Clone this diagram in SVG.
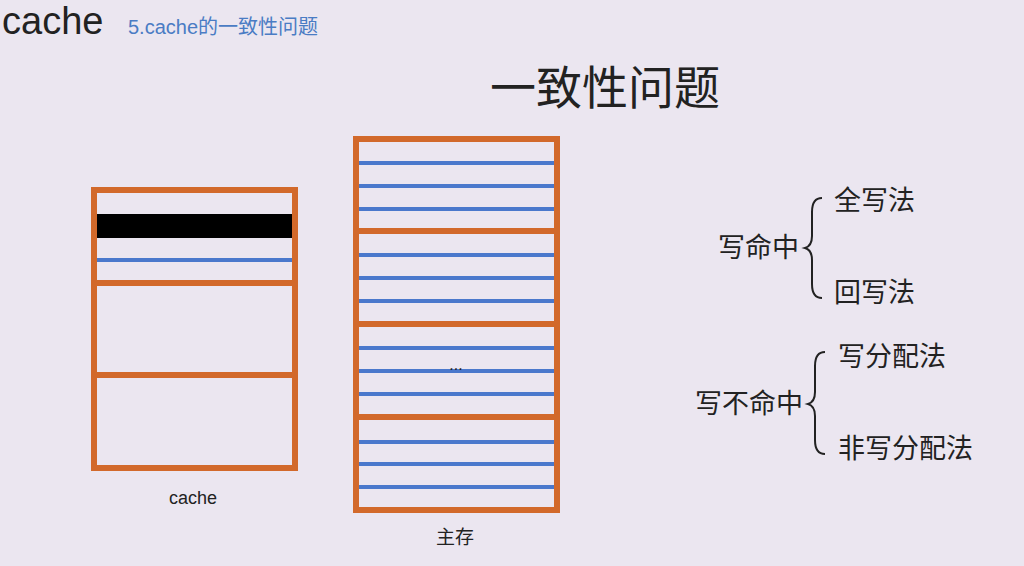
<svg xmlns="http://www.w3.org/2000/svg" width="1024" height="566" viewBox="0 0 1024 566">
<defs><style>
.o{fill:none;stroke:#d2692b;stroke-width:6}
.b{stroke:#4a78cc;stroke-width:4}
.t{font-family:"Liberation Sans","Noto Sans CJK SC",sans-serif;fill:#222}
.br{fill:none;stroke:#222;stroke-width:2}
</style></defs>
<rect width="1024" height="566" fill="#ebe6f0"/>
<text class="t" x="2" y="34" font-size="38">cache</text>
<text class="t" x="128" y="34" font-size="20" style="fill:#4a7cc4">5.cache的一致性问题</text>
<text class="t" x="605" y="104" font-size="46" text-anchor="middle">一致性问题</text>
<g id="cache">
<rect x="96" y="214" width="197" height="24" fill="#000"/>
<line class="b" x1="96" y1="260" x2="293" y2="260"/>
<rect class="o" x="94" y="190" width="201" height="278"/>
<line class="o" x1="94" y1="283" x2="295" y2="283"/>
<line class="o" x1="94" y1="375" x2="295" y2="375"/>
<text class="t" x="193" y="504" font-size="18" text-anchor="middle">cache</text>
</g>
<g id="memory">
<g class="b">
<line x1="356" y1="163" x2="557" y2="163"/><line x1="356" y1="186" x2="557" y2="186"/><line x1="356" y1="209" x2="557" y2="209"/>
<line x1="356" y1="255" x2="557" y2="255"/><line x1="356" y1="278" x2="557" y2="278"/><line x1="356" y1="301" x2="557" y2="301"/>
<line x1="356" y1="348" x2="557" y2="348"/><line x1="356" y1="371" x2="557" y2="371"/><line x1="356" y1="394" x2="557" y2="394"/>
<line x1="356" y1="442" x2="557" y2="442"/><line x1="356" y1="464" x2="557" y2="464"/><line x1="356" y1="487" x2="557" y2="487"/>
</g>
<rect class="o" x="356" y="139" width="201" height="371"/>
<line class="o" x1="356" y1="231" x2="557" y2="231"/>
<line class="o" x1="356" y1="324" x2="557" y2="324"/>
<line class="o" x1="356" y1="417" x2="557" y2="417"/>
<text class="t" x="456" y="370" font-size="16" text-anchor="middle">...</text>
<text class="t" x="455" y="544" font-size="19" text-anchor="middle">主存</text>
</g>
<g id="hit">
<text class="t" x="799" y="257" font-size="27" text-anchor="end">写命中</text>
<path class="br" d="M822,198 Q812,198 812,212 L812,236 Q812,246 805,248 Q812,250 812,260 L812,284 Q812,298 822,298"/>
<text class="t" x="834" y="210" font-size="27">全写法</text>
<text class="t" x="834" y="302" font-size="27">回写法</text>
</g>
<g id="miss">
<text class="t" x="803" y="413" font-size="27" text-anchor="end">写不命中</text>
<path class="br" d="M825,352 Q815,352 815,366 L815,392 Q815,402 808,404 Q815,406 815,416 L815,440 Q815,454 825,454"/>
<text class="t" x="838" y="366" font-size="27">写分配法</text>
<text class="t" x="838" y="458" font-size="27">非写分配法</text>
</g>
</svg>
